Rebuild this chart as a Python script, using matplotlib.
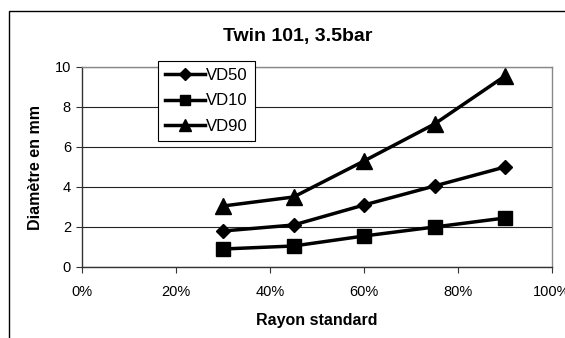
import matplotlib
matplotlib.use("Agg")
import matplotlib.pyplot as plt
from matplotlib.ticker import FuncFormatter
from matplotlib.patches import Rectangle

plt.rcParams['font.family'] = ['Liberation Sans', 'DejaVu Sans']

# Data
rayon = [30, 45, 60, 75, 90]           # % of standard radius
vd50 = [1.8, 2.1, 3.1, 4.05, 5.0]
vd10 = [0.9, 1.05, 1.55, 2.0, 2.45]
vd90 = [3.05, 3.5, 5.3, 7.15, 9.55]
x_ticks = [0, 20, 40, 60, 80, 100]
y_ticks = [0, 2, 4, 6, 8, 10]

W, H = 565, 338
fig = plt.figure(figsize=(W / 100, H / 100), dpi=100)

# outer chart frame (extends beyond the right and bottom edges)
fig.patches.append(Rectangle((9 / W, -0.1), 1.2, 1.1 - 10.5 / H, transform=fig.transFigure,
                             fill=False, edgecolor='black', linewidth=1.0))

ax = fig.add_axes([82 / W, 1 - 267 / H, (552 - 82) / W, (267 - 67) / H])

ax.plot(rayon, vd50, color='black', lw=2.5, marker='D', ms=7.5, label='VD50')
ax.plot(rayon, vd10, color='black', lw=2.5, marker='s', ms=9.5, label='VD10')
ax.plot(rayon, vd90, color='black', lw=2.5, marker='^', ms=11, label='VD90')

ax.set_xlim(0, 100)
ax.set_ylim(0, 10)
ax.set_xticks(x_ticks)
ax.set_yticks(y_ticks)
ax.xaxis.set_major_formatter(FuncFormatter(lambda v, p: f"{v:.0f}%"))
ax.tick_params(axis='both', labelsize=10.5, length=4, width=0.8, color='#333333', direction='out')
ax.tick_params(axis='x', pad=9)
ax.tick_params(axis='y', pad=4)

ax.grid(axis='y', color='#222222', linewidth=0.8)
ax.set_axisbelow(True)
for s in ('top', 'right'):
    ax.spines[s].set_color('#888888')
    ax.spines[s].set_linewidth(1.0)
for s in ('left', 'bottom'):
    ax.spines[s].set_color('#333333')
    ax.spines[s].set_linewidth(1.0)

ax.set_xlabel('Rayon standard', fontsize=11.5, fontweight='bold', labelpad=10)
ax.set_ylabel('Diamètre en mm', fontsize=11.5, fontweight='bold', labelpad=8)

fig.text(298 / W, 1 - 37 / H, 'Twin 101, 3.5bar', ha='center', va='center',
         fontsize=14, fontweight='bold')

leg = ax.legend(loc='upper left', bbox_to_anchor=((158 - 82) / 470, 1 + (67 - 61) / 200),
                frameon=True, fancybox=False, edgecolor='black', framealpha=1,
                fontsize=12, handlelength=2.4, handletextpad=0.1, borderpad=0.4,
                labelspacing=0.65, borderaxespad=0, markerscale=0.8)
leg.get_frame().set_linewidth(0.8)

fig.savefig('out.png', dpi=100)
